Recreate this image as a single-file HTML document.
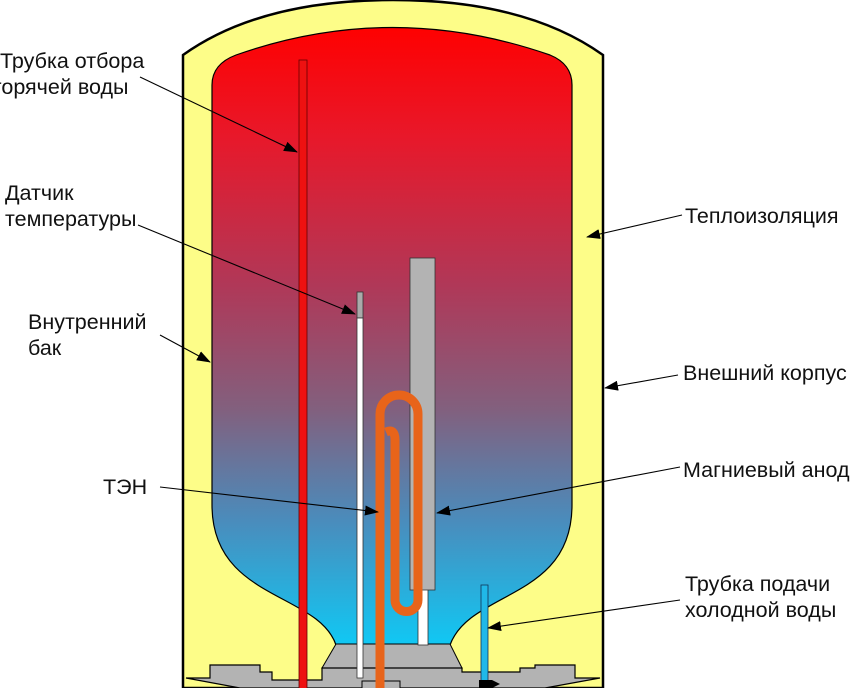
<!DOCTYPE html>
<html><head><meta charset="utf-8"><style>
html,body{margin:0;padding:0;background:#fff;width:850px;height:688px;overflow:hidden}
svg{display:block}
text{font-family:"Liberation Sans",sans-serif;font-size:21.5px;fill:#111}
</style></head><body>
<svg width="850" height="688" viewBox="0 0 850 688" xmlns="http://www.w3.org/2000/svg">
<defs>
<linearGradient id="w" x1="0" y1="25" x2="0" y2="645" gradientUnits="userSpaceOnUse">
<stop offset="0" stop-color="#ff0000"/>
<stop offset="0.18" stop-color="#e8182a"/>
<stop offset="0.42" stop-color="#b03858"/>
<stop offset="0.62" stop-color="#82607e"/>
<stop offset="0.8" stop-color="#4a8cbc"/>
<stop offset="1" stop-color="#10c8f4"/>
</linearGradient>
<marker id="a" markerWidth="14" markerHeight="10" refX="13" refY="5" orient="auto" markerUnits="userSpaceOnUse">
<path d="M0,0 L14,5 L0,10 Z" fill="#000"/>
</marker>
</defs>
<path d="M183,688 L183,55 Q260,0 393,0 Q526,0 603,55 L603,688 Z" fill="#fdfd88" stroke="#000" stroke-width="2.5"/>
<path d="M212,85 Q212,64 236,55 Q392,0 550,55 Q572,64 572,85 L572,505 C572,600 470,590 450,645 L336,645 C318,592 212,600 212,505 Z" fill="url(#w)" stroke="#000" stroke-width="1.2"/>
<path d="M336,644 L450,644 L462,668 L322,668 Z" fill="#b3b3b3" stroke="#000" stroke-width="1"/>
<path d="M186,678 L210,678 L210,665 L260,665 L260,672 L272,672 L272,680 L322,680 L322,668 L462,668 L462,672 L520,672 L520,668 L535,668 L535,665 L575,665 L575,678 L600,678 L545,688 L240,688 Z" fill="#b3b3b3" stroke="#000" stroke-width="1.2"/>
<rect x="362" y="681" width="38" height="10" fill="#b3b3b3" stroke="#000" stroke-width="1"/>
<rect x="299" y="60" width="8" height="630" fill="#ee1111" stroke="#600" stroke-width="0.8"/>
<rect x="357" y="292" width="6" height="26" fill="#aaa" stroke="#333" stroke-width="0.8"/>
<rect x="357" y="318" width="6" height="360" fill="#fff" stroke="#333" stroke-width="0.8"/>
<rect x="418" y="588" width="10" height="57" fill="#fff" stroke="#333" stroke-width="0.8"/>
<rect x="410" y="258" width="25" height="332" fill="#b3b3b3" stroke="#333" stroke-width="0.8"/>
<path d="M380,688 L380,414 A19,19 0 0 1 418,414 L418,600 A11.5,11.5 0 0 1 395,600 L395,440 Q395,428 386,432" fill="none" stroke="#e8641a" stroke-width="9"/>
<rect x="481" y="585" width="7" height="103" fill="#20b8e8" stroke="#135" stroke-width="0.8"/>
<path d="M479,680 L492,680 L500,684 L492,688 L479,688 Z" fill="#000"/>
<g stroke="#000" stroke-width="1.1" fill="none" marker-end="url(#a)">
<line x1="140" y1="77" x2="297" y2="152"/>
<line x1="138" y1="225" x2="355" y2="314"/>
<line x1="160" y1="335" x2="210" y2="362"/>
<line x1="160" y1="487" x2="378" y2="512"/>
<line x1="682" y1="215" x2="587" y2="237"/>
<line x1="678" y1="375" x2="605" y2="388"/>
<line x1="680" y1="467" x2="437" y2="513"/>
<line x1="680" y1="600" x2="488" y2="628"/>
</g>
<text x="0" y="68">Трубка отбора</text>
<text x="-6" y="94">горячей воды</text>
<text x="5" y="200">Датчик</text>
<text x="5" y="226">температуры</text>
<text x="28" y="329">Внутренний</text>
<text x="28" y="355">бак</text>
<text x="103" y="494">ТЭН</text>
<text x="685" y="223">Теплоизоляция</text>
<text x="683" y="380">Внешний корпус</text>
<text x="683" y="477">Магниевый анод</text>
<text x="685" y="591">Трубка подачи</text>
<text x="685" y="617">холодной воды</text>
</svg>
</body></html>
